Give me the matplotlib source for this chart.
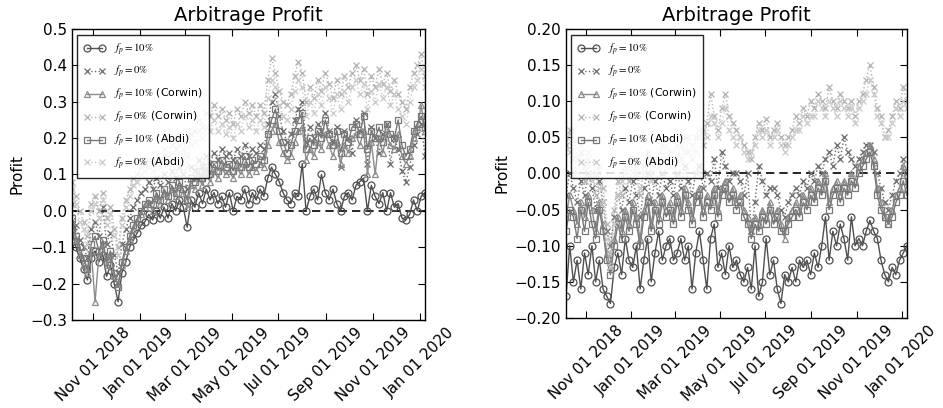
import pandas as pd
import matplotlib
matplotlib.use("Agg")
import matplotlib.pyplot as plt
import matplotlib.dates as mdates
from matplotlib.ticker import MultipleLocator

plt.rcParams['font.family'] = ['DejaVu Sans']
plt.rcParams['mathtext.fontset'] = 'stix'

# sampled every 5 days, Oct 2018 .. Jan 2020
dates = pd.date_range('2018-10-05', periods=93, freq='5D')

# ---- left panel ----
left_p10 = [-0.05, -0.10, -0.13, -0.16, -0.19, -0.13, -0.11, -0.14, -0.12, -0.18,
            -0.15, -0.20, -0.25, -0.17, -0.14, -0.10, -0.08, -0.06, -0.04, -0.03,
            -0.01, -0.025, 0.0, -0.02, 0.01, -0.02, 0.02, 0.0, 0.03, 0.01,
            -0.045, 0.03, 0.01, 0.05, 0.02, 0.06, 0.03, 0.05, 0.02, 0.04,
            0.01, 0.05, 0.0, 0.04, 0.03, 0.06, 0.02, 0.05, 0.03, 0.06,
            0.04, 0.09, 0.12, 0.10, 0.08, 0.05, 0.03, 0.02, 0.05, 0.04,
            0.13, 0.0, 0.04, 0.06, 0.03, 0.10, 0.05, 0.03, 0.06, 0.02,
            0.0, 0.04, 0.05, 0.03, 0.07, 0.08, 0.09, 0.0, 0.07, 0.04,
            0.02, 0.05, 0.0, 0.05, 0.01, 0.02, -0.02, -0.025, -0.01, 0.03,
            0.0, 0.04, 0.05]
left_p0 = [0.02, -0.04, -0.08, -0.10, -0.13, -0.05, -0.03, -0.07, 0.01, -0.09,
           -0.06, -0.12, -0.17, -0.09, -0.05, -0.02, 0.01, 0.03, 0.05, 0.06,
           0.08, 0.06, 0.09, 0.07, 0.10, 0.08, 0.11, 0.09, 0.12, 0.10,
           0.06, 0.12, 0.11, 0.14, 0.12, 0.15, 0.13, 0.16, 0.14, 0.17,
           0.15, 0.16, 0.14, 0.17, 0.15, 0.18, 0.15, 0.17, 0.16, 0.18,
           0.17, 0.24, 0.30, 0.32, 0.26, 0.22, 0.19, 0.21, 0.25, 0.28,
           0.30, 0.19, 0.23, 0.20, 0.24, 0.22, 0.27, 0.22, 0.19, 0.23,
           0.12, 0.22, 0.20, 0.16, 0.25, 0.22, 0.27, 0.13, 0.23, 0.20,
           0.16, 0.21, 0.24, 0.13, 0.20, 0.17, 0.11, 0.08, 0.12, 0.18,
           0.21, 0.24, 0.15]
left_c10 = [-0.03, -0.08, -0.12, -0.15, -0.17, -0.11, -0.25, -0.12, -0.09, -0.15,
            -0.12, -0.18, -0.20, -0.15, -0.11, -0.08, -0.05, -0.03, -0.01, 0.01,
            0.02, 0.0, 0.04, 0.02, 0.05, 0.03, 0.06, 0.04, 0.07, 0.05,
            0.01, 0.07, 0.06, 0.09, 0.07, 0.10, 0.08, 0.11, 0.09, 0.12,
            0.10, 0.11, 0.09, 0.12, 0.10, 0.13, 0.10, 0.12, 0.11, 0.13,
            0.12, 0.18, 0.22, 0.24, 0.19, 0.16, 0.14, 0.15, 0.19, 0.22,
            0.23, 0.14, 0.17, 0.15, 0.19, 0.17, 0.21, 0.18, 0.15, 0.19,
            0.13, 0.18, 0.16, 0.20, 0.21, 0.18, 0.22, 0.10, 0.19, 0.10,
            0.20, 0.16, 0.21, 0.18, 0.17, 0.21, 0.15, 0.13, 0.15, 0.20,
            0.23, 0.29, 0.22]
left_c0 = [0.08, 0.04, 0.0, -0.03, -0.07, 0.02, 0.04, 0.0, 0.05, -0.02,
           0.01, -0.05, -0.10, -0.02, 0.03, 0.06, 0.09, 0.10, 0.12, 0.13,
           0.14, 0.13, 0.16, 0.14, 0.17, 0.15, 0.18, 0.17, 0.20, 0.19,
           0.15, 0.21, 0.22, 0.25, 0.23, 0.27, 0.26, 0.29, 0.26, 0.28,
           0.25, 0.27, 0.24, 0.28, 0.26, 0.30, 0.27, 0.29, 0.26, 0.29,
           0.27, 0.36, 0.42, 0.38, 0.33, 0.30, 0.29, 0.32, 0.37, 0.41,
           0.38, 0.30, 0.34, 0.31, 0.36, 0.33, 0.38, 0.35, 0.31, 0.36,
           0.32, 0.37, 0.34, 0.38, 0.40, 0.36, 0.39, 0.32, 0.37, 0.34,
           0.39, 0.35, 0.38, 0.33, 0.36, 0.32, 0.30, 0.28, 0.34, 0.38,
           0.40, 0.43, 0.37]
left_a10 = [-0.02, -0.07, -0.10, -0.13, -0.16, -0.09, -0.07, -0.11, -0.08, -0.14,
            -0.11, -0.17, -0.21, -0.14, -0.10, -0.07, -0.04, -0.02, 0.0, 0.02,
            0.03, 0.02, 0.05, 0.03, 0.06, 0.04, 0.07, 0.05, 0.08, 0.06,
            0.03, 0.09, 0.08, 0.11, 0.09, 0.12, 0.10, 0.13, 0.11, 0.14,
            0.12, 0.13, 0.11, 0.14, 0.12, 0.15, 0.12, 0.14, 0.13, 0.15,
            0.14, 0.21, 0.25, 0.28, 0.22, 0.19, 0.16, 0.18, 0.22, 0.25,
            0.27, 0.17, 0.20, 0.18, 0.22, 0.20, 0.25, 0.21, 0.18, 0.22,
            0.16, 0.21, 0.19, 0.23, 0.24, 0.21, 0.26, 0.17, 0.22, 0.20,
            0.23, 0.19, 0.24, 0.21, 0.20, 0.25, 0.18, 0.15, 0.17, 0.22,
            0.24, 0.26, 0.23]
left_a0 = [0.06, 0.02, -0.03, -0.05, -0.09, 0.0, 0.02, -0.02, 0.03, -0.04,
           -0.01, -0.07, -0.12, -0.04, 0.01, 0.04, 0.07, 0.08, 0.10, 0.11,
           0.12, 0.11, 0.14, 0.12, 0.15, 0.13, 0.16, 0.15, 0.18, 0.17,
           0.12, 0.18, 0.19, 0.22, 0.20, 0.23, 0.22, 0.25, 0.22, 0.24,
           0.21, 0.23, 0.20, 0.24, 0.22, 0.26, 0.23, 0.25, 0.22, 0.25,
           0.23, 0.31, 0.36, 0.34, 0.29, 0.26, 0.25, 0.28, 0.33, 0.36,
           0.34, 0.26, 0.30, 0.27, 0.32, 0.29, 0.34, 0.31, 0.27, 0.32,
           0.28, 0.33, 0.30, 0.34, 0.36, 0.32, 0.35, 0.28, 0.33, 0.30,
           0.35, 0.31, 0.34, 0.29, 0.32, 0.28, 0.26, 0.24, 0.30, 0.34,
           0.36, 0.39, 0.34]

# ---- right panel ----
right_p10 = [-0.17, -0.10, -0.15, -0.12, -0.16, -0.11, -0.14, -0.10, -0.15, -0.12,
             -0.16, -0.17, -0.18, -0.13, -0.11, -0.14, -0.09, -0.12, -0.13, -0.10,
             -0.16, -0.12, -0.09, -0.15, -0.11, -0.08, -0.12, -0.10, -0.09, -0.12,
             -0.11, -0.09, -0.12, -0.10, -0.16, -0.11, -0.08, -0.12, -0.16, -0.09,
             -0.07, -0.13, -0.11, -0.14, -0.10, -0.13, -0.12, -0.14, -0.15, -0.13,
             -0.16, -0.10, -0.17, -0.15, -0.09, -0.14, -0.12, -0.16, -0.18, -0.14,
             -0.15, -0.13, -0.15, -0.12, -0.13, -0.12, -0.14, -0.11, -0.13, -0.10,
             -0.06, -0.12, -0.08, -0.10, -0.07, -0.09, -0.12, -0.06, -0.10, -0.09,
             -0.10, -0.08, -0.065, -0.08, -0.09, -0.12, -0.14, -0.15, -0.13, -0.14,
             -0.12, -0.11, -0.10]
right_p0 = [-0.03, 0.0, -0.02, -0.04, -0.01, -0.03, 0.0, -0.02, -0.05, -0.01,
            -0.04, -0.08, -0.10, -0.06, -0.03, -0.05, -0.02, -0.04, -0.01, -0.03,
            -0.06, -0.02, 0.0, -0.04, -0.01, -0.03, 0.0, -0.02, -0.01, -0.03,
            0.0, -0.02, 0.01, -0.01, -0.03, 0.0, 0.01, -0.02, 0.0, -0.01,
            0.02, -0.02, 0.03, 0.01, -0.01, 0.0, 0.0, -0.01, -0.03, 0.0,
            -0.08, -0.04, 0.01, -0.01, -0.03, -0.02, -0.02, -0.03, -0.05, -0.06,
            -0.04, -0.03, -0.02, -0.03, -0.01, -0.02, 0.0, -0.01, 0.01, 0.0,
            0.02, 0.03, 0.01, 0.04, 0.02, 0.05, 0.03, 0.02, 0.01, 0.02,
            0.03, 0.04, 0.04, 0.03, 0.0, -0.02, -0.04, -0.05, -0.03, -0.01,
            0.0, 0.02, 0.0]
right_c10 = [-0.06, -0.03, -0.05, -0.07, -0.04, -0.06, -0.03, -0.05, -0.08, -0.04,
             -0.07, -0.11, -0.13, -0.09, -0.06, -0.08, -0.05, -0.07, -0.04, -0.06,
             -0.09, -0.05, -0.03, -0.07, -0.04, -0.06, -0.03, -0.05, -0.04, -0.06,
             -0.03, -0.05, -0.02, -0.04, -0.06, -0.03, -0.02, -0.05, -0.03, -0.04,
             -0.02, -0.05, -0.02, -0.01, -0.03, -0.02, -0.04, -0.03, -0.05, -0.06,
             -0.08, -0.06, -0.07, -0.05, -0.06, -0.04, -0.06, -0.05, -0.07, -0.09,
             -0.06, -0.05, -0.04, -0.05, -0.03, -0.04, -0.02, -0.03, -0.01, -0.02,
             0.0, -0.04, -0.02, -0.01, -0.03, -0.01, -0.02, 0.0, -0.01, 0.01,
             0.02, 0.03, 0.04, 0.02, -0.02, -0.04, -0.06, -0.07, -0.05, -0.03,
             -0.02, 0.01, -0.02]
right_c0 = [0.04, 0.06, 0.02, 0.0, 0.03, -0.01, 0.02, 0.0, -0.03, 0.01,
            -0.02, -0.07, -0.11, -0.05, -0.01, -0.03, 0.01, -0.01, 0.02, 0.0,
            -0.03, 0.01, 0.03, 0.0, 0.02, 0.01, 0.04, 0.02, 0.03, 0.01,
            0.04, 0.02, 0.05, 0.03, 0.02, 0.05, 0.06, 0.04, 0.07, 0.11,
            0.08, 0.06, 0.09, 0.11, 0.08, 0.07, 0.06, 0.05, 0.04, 0.03,
            0.02, 0.05, 0.07, 0.06, 0.075, 0.05, 0.06, 0.07, 0.05, 0.04,
            0.05, 0.06, 0.08, 0.07, 0.09, 0.08, 0.10, 0.09, 0.11, 0.10,
            0.09, 0.12, 0.10, 0.09, 0.11, 0.10, 0.09, 0.10, 0.08, 0.10,
            0.11, 0.13, 0.15, 0.12, 0.09, 0.08, 0.05, 0.06, 0.08, 0.10,
            0.09, 0.12, 0.10]
right_a10 = [-0.08, -0.05, -0.06, -0.09, -0.05, -0.08, -0.04, -0.07, -0.09, -0.05,
             -0.08, -0.12, -0.14, -0.10, -0.07, -0.09, -0.06, -0.08, -0.05, -0.07,
             -0.10, -0.06, -0.04, -0.08, -0.05, -0.07, -0.04, -0.06, -0.05, -0.07,
             -0.04, -0.06, -0.03, -0.05, -0.07, -0.04, -0.03, -0.06, -0.04, -0.05,
             -0.03, -0.06, -0.03, -0.02, -0.04, -0.03, -0.05, -0.04, -0.06, -0.07,
             -0.09, -0.07, -0.08, -0.06, -0.07, -0.05, -0.07, -0.06, -0.08, -0.08,
             -0.07, -0.06, -0.05, -0.06, -0.04, -0.05, -0.03, -0.04, -0.02, -0.03,
             -0.01, -0.05, -0.03, -0.02, -0.04, -0.02, -0.03, -0.01, -0.02, 0.0,
             0.01, 0.02, 0.03, 0.01, -0.03, -0.05, -0.06, -0.07, -0.06, -0.04,
             -0.03, -0.01, -0.03]
right_a0 = [0.05, 0.03, 0.06, 0.02, 0.04, 0.01, 0.03, -0.01, 0.0, -0.02,
            -0.04, -0.09, -0.13, -0.07, -0.03, -0.01, 0.0, 0.02, 0.0, 0.01,
            -0.02, 0.0, 0.02, -0.01, 0.01, 0.03, 0.02, 0.04, 0.01, 0.03,
            0.02, 0.04, 0.03, 0.05, 0.04, 0.03, 0.05, 0.06, 0.05, 0.08,
            0.07, 0.05, 0.07, 0.09, 0.06, 0.05, 0.04, 0.05, 0.03, 0.02,
            0.03, 0.04, 0.06, 0.05, 0.06, 0.04, 0.05, 0.06, 0.04, 0.03,
            0.04, 0.05, 0.06, 0.06, 0.08, 0.07, 0.08, 0.08, 0.10, 0.09,
            0.08, 0.10, 0.09, 0.08, 0.10, 0.09, 0.08, 0.09, 0.07, 0.09,
            0.10, 0.11, 0.13, 0.11, 0.08, 0.07, 0.05, 0.05, 0.07, 0.09,
            0.08, 0.10, 0.09]

labels = [r'$f_p=10\%$', r'$f_p=0\%$', r'$f_p=10\%$ (Corwin)',
          r'$f_p=0\%$ (Corwin)', r'$f_p=10\%$ (Abdi)', r'$f_p=0\%$ (Abdi)']
markers = ['o', 'x', '^', 'x', 's', 'x']
linestyles = ['-', ':', '-', ':', '-', ':']
colors = ['#4f4f4f', '#6b6b6b', '#8c8c8c', '#b3b3b3', '#787878', '#c9c9c9']


def draw(ax, series, ylim, step):
    ax.axhline(0, color='k', lw=1.2, ls=(0, (5, 3)), zorder=1.5)
    for y, lab, m, ls, c in zip(series, labels, markers, linestyles, colors):
        ax.plot(dates, y, marker=m, ls=ls, color=c, lw=1.0, ms=5,
                mfc='none', mec=c, mew=0.9, label=lab)
    ax.set_xlim(dates[0], dates[-1])
    ax.set_ylim(*ylim)
    ax.yaxis.set_major_locator(MultipleLocator(step))
    ax.xaxis.set_major_locator(mdates.MonthLocator(bymonth=[1, 3, 5, 7, 9, 11]))
    ax.xaxis.set_major_formatter(mdates.DateFormatter('%b %d %Y'))
    ax.tick_params(direction='in', top=True, right=True, length=5, labelsize=11)
    ax.tick_params(axis='x', labelrotation=45)
    ax.set_ylabel('Profit', fontsize=11)
    ax.set_title('Arbitrage Profit', fontsize=14)
    for s in ax.spines.values():
        s.set_linewidth(1.0)
    leg = ax.legend(loc='upper left', bbox_to_anchor=(0.014, 0.979), borderaxespad=0,
                    fontsize=7.8, labelspacing=0.62, handlelength=2.0, numpoints=2,
                    fancybox=False, edgecolor='k', framealpha=0.85, borderpad=0.6)
    leg.get_frame().set_linewidth(1.0)


fig = plt.figure(figsize=(9.43, 4.08), dpi=100)
ax1 = fig.add_axes([0.0764, 0.2157, 0.3743, 0.7133])
ax2 = fig.add_axes([0.6002, 0.2206, 0.3616, 0.7084])

draw(ax1, [left_p10, left_p0, left_c10, left_c0, left_a10, left_a0], (-0.3, 0.5), 0.1)
draw(ax2, [right_p10, right_p0, right_c10, right_c0, right_a10, right_a0], (-0.2, 0.2), 0.05)

fig.savefig('out.png', dpi=100)
